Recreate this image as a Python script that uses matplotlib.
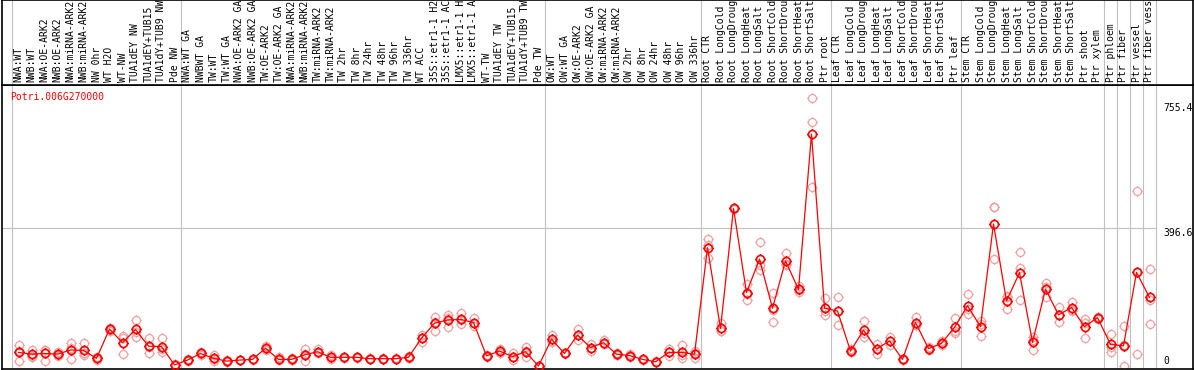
import numpy as np
import matplotlib
matplotlib.use("Agg")
import matplotlib.pyplot as plt
from matplotlib.path import Path
from matplotlib.markers import MarkerStyle

gene = "Potri.006G270000"

samples = [
    "NWA:WT", "NWB:WT", "NWA:OE-ARK2", "NWB:OE-ARK2", "NWA:miRNA-ARK2", "NWB:miRNA-ARK2",
    "NW 0hr", "WT H2O", "WT-NW", "TUA1dEY NW", "TUA1dEY+TUB15", "TUA1dY+TUB9 NW", "Pde NW",
    "NWA:WT GA", "NWBWT GA", "TW:WT", "TW:WT GA", "NWA:OE-ARK2 GA", "NWB:OE-ARK2 GA",
    "TW:OE-ARK2", "TW:OE-ARK2 GA", "NWA:miRNA-ARK2", "NWB:miRNA-ARK2", "TW:miRNA-ARK2",
    "TW:miRNA-ARK2", "TW 2hr", "TW 8hr", "TW 24hr", "TW 48hr", "TW 96hr", "TW 336hr",
    "WT ACC", "35S::etr1-1 H2O", "35S::etr1-1 ACC", "LMX5::etr1-1 H2O", "LMX5::etr1-1 ACC",
    "WT-TW", "TUA1dEY TW", "TUA1dEY+TUB15", "TUA1dY+TUB9 TW", "Pde TW",
    "OW:WT", "OW:WT GA", "OW:OE-ARK2", "OW:OE-ARK2 GA", "OW:miRNA-ARK2", "OW:miRNA-ARK2",
    "OW 2hr", "OW 8hr", "OW 24hr", "OW 48hr", "OW 96hr", "OW 336hr",
    "Root CTR", "Root LongCold", "Root LongDrought", "Root LongHeat", "Root LongSalt",
    "Root ShortCold", "Root ShortDrought", "Root ShortHeat", "Root ShortSalt", "Ptr root",
    "Leaf CTR", "Leaf LongCold", "Leaf LongDrought", "Leaf LongHeat", "Leaf LongSalt",
    "Leaf ShortCold", "Leaf ShortDrought", "Leaf ShortHeat", "Leaf ShortSalt", "Ptr leaf",
    "Stem CTR", "Stem LongCold", "Stem LongDrought", "Stem LongHeat", "Stem LongSalt",
    "Stem ShortCold", "Stem ShortDrought", "Stem ShortHeat", "Stem ShortSalt", "Ptr shoot",
    "Ptr xylem", "Ptr phloem", "Ptr fiber", "Ptr vessel", "Ptr fiber vessel",
]

# index of first sample in each group (plus end)
group_starts = [0, 13, 41, 53, 63, 73, 84, 85, 86, 87, 88]

means = [
    39, 34, 36, 34, 46, 45, 22, 106, 67, 105, 57, 56, 3,
    17, 36, 22, 14, 17, 19, 51, 19, 19, 32, 41, 25, 25, 25, 21, 21, 21, 25,
    80, 123, 132, 134, 125, 29, 43, 27, 41, 0,
    77, 36, 89, 53, 67, 34, 30, 19, 12, 39, 39, 34,
    340, 108, 453, 211, 307, 166, 302, 220, 666, 166,
    158, 43, 103, 49, 72, 19, 125, 50, 65, 111,
    173, 113, 408, 187, 268, 68, 221, 147, 168, 113, 139,
    62, 58, 269, 197,
]

reps = [
    [60, 14, 43], [46, 30, 26], [46, 15, 47], [40, 30, 32], [67, 19, 52], [65, 32, 38],
    [26, 18, 22], [110, 100, 108], [87, 34, 80], [132, 84, 99], [80, 36, 55], [80, 40, 48],
    [5, 2, 2],
    [20, 15, 16], [40, 32, 36], [31, 14, 21], [16, 12, 14], [18, 16, 17], [20, 18, 19],
    [58, 46, 49], [25, 16, 16], [22, 17, 18], [48, 14, 34], [48, 36, 39], [31, 19, 25],
    [27, 24, 24], [26, 24, 25], [23, 20, 20], [22, 20, 21], [22, 21, 20], [28, 23, 24],
    [90, 70, 80], [142, 101, 126], [146, 112, 138], [151, 120, 131], [138, 114, 123],
    [31, 27, 29], [50, 36, 43], [36, 18, 27], [55, 25, 43], [1, 0, 0],
    [90, 70, 71], [38, 34, 36], [105, 74, 88], [63, 43, 53], [74, 64, 63], [37, 32, 33],
    [34, 26, 30], [21, 18, 18], [14, 11, 11], [50, 28, 39], [60, 24, 33], [37, 22, 43],
    [364, 309, 347], [123, 100, 101], [455, 451, 453], [236, 190, 207], [355, 276, 290],
    [209, 127, 162], [324, 290, 292], [230, 212, 218], [769, 702, 513], [194, 147, 157],
    [197, 118, 159], [48, 40, 41], [129, 84, 96], [63, 34, 50], [84, 60, 72],
    [21, 18, 18], [140, 118, 117], [55, 45, 50], [72, 60, 63], [137, 94, 102],
    [206, 149, 164], [130, 87, 122], [458, 458, 307], [200, 163, 198], [327, 282, 191],
    [75, 46, 83], [239, 197, 227], [169, 126, 146], [185, 157, 162], [134, 80, 125],
    [142, 135, 140],
    [91, 39, 56], [115, 0, 59], [503, 34, 270], [279, 121, 191],
]

y_ticks = [0, 396.6, 755.4]

plt.rcParams["font.family"] = "DejaVu Sans Mono"
plt.rcParams["font.size"] = 7

W, H = 1194, 370
fig = plt.figure(figsize=(W / 100, H / 100), dpi=100)
ax = fig.add_axes([2 / W, 1 / H, 1191 / W, 284 / H])
hax = fig.add_axes([2 / W, 285 / H, 1191 / W, 85 / H], sharex=ax)

# circle marker with four little ticks, like the original
circ = Path.unit_circle()
stubs = Path([(0, 1), (0, 1.3), (0, -1), (0, -1.3), (1, 0), (1.3, 0), (-1, 0), (-1.3, 0)],
             [Path.MOVETO, Path.LINETO] * 4)
mk = MarkerStyle(Path.make_compound_path(circ, stubs), fillstyle="none")

x = np.arange(len(samples))
rep_arr = np.array(reps)
for j in range(rep_arr.shape[1]):
    ax.plot(x, rep_arr[:, j], ls="none", marker=mk, ms=7.5, mec="#f2a0a0", mew=0.9, zorder=2)
ax.plot(x, means, color="red", lw=0.9, zorder=3)
ax.plot(x, means, ls="none", marker=mk, ms=7.5, mec="red", mew=1.2, zorder=4)

for a in (ax, hax):
    for g in group_starts:
        a.axvline(g - 0.5, color="#c0c0c0", lw=0.8, zorder=0)
    for s in a.spines.values():
        s.set_color("black")
        s.set_linewidth(1.2)
    a.set_xticks([])
    a.set_yticks([])

ax.axhline(y_ticks[1], xmax=(1155 - 2) / 1191, color="#c0c0c0", lw=0.8, zorder=0)
ax.set_xlim((2 - 18.5) / 13, (1193 - 18.5) / 13)
ax.set_ylim(-(369 - 366) / 0.348, (366 - 85) / 0.348)

for v in y_ticks:
    ax.text((1163 - 18.5) / 13, v, str(v) if v else "0",
            va="bottom" if v == 0 else "top", ha="left", clip_on=True)

ax.text(8 / 1191, 0.957, gene, color="red", transform=ax.transAxes, va="center", ha="left")

hax.set_ylim(0, 1)
for i, s in enumerate(samples):
    hax.text(i, 0.035, s, rotation=90, ha="center", va="bottom", clip_on=True)

fig.savefig("out.png", dpi=100)
